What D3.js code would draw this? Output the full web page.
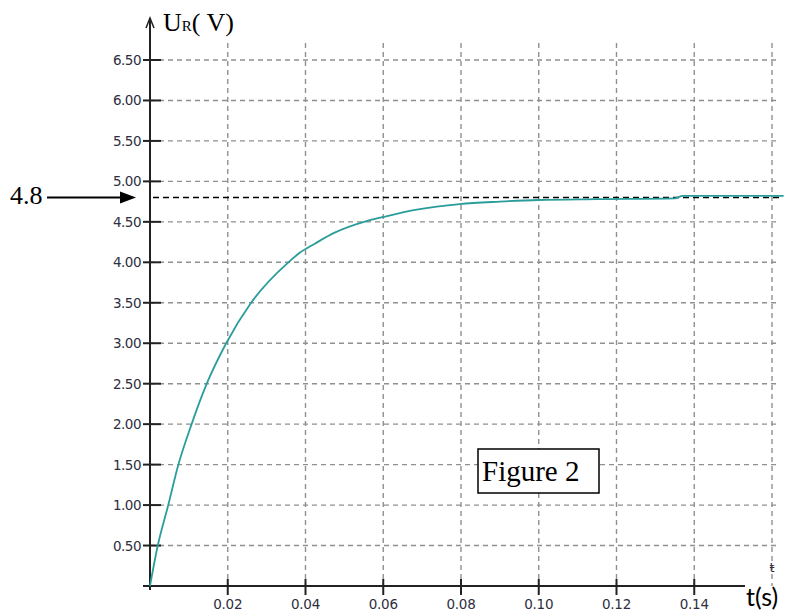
<!DOCTYPE html>
<html><head><meta charset="utf-8">
<script src="https://cdn.jsdelivr.net/npm/d3@7"></script>
<style>body{margin:0;background:#fff}svg{display:block}</style>
</head><body>
<script>
// data
const tValues = [0, 0.002, 0.0047, 0.0073, 0.0107, 0.0146, 0.0196, 0.026, 0.0356, 0.0386, 0.0424, 0.0472, 0.0557, 0.060, 0.0686, 0.0797, 0.09, 0.10, 0.115, 0.135, 0.137, 0.163];
const uValues = [0, 0.5, 1.0, 1.5, 2.0, 2.5, 3.0, 3.5, 4.0, 4.12, 4.23, 4.36, 4.51, 4.56, 4.65, 4.72, 4.75, 4.77, 4.78, 4.79, 4.82, 4.82];
const xTicks = [0.02, 0.04, 0.06, 0.08, 0.10, 0.12, 0.14];
const xTickLabels = ["0.02", "0.04", "0.06", "0.08", "0.10", "0.12", "0.14"];
const xGrid = [0.02, 0.04, 0.06, 0.08, 0.10, 0.12, 0.14, 0.16];
const yTicks = [0.5, 1, 1.5, 2, 2.5, 3, 3.5, 4, 4.5, 5, 5.5, 6, 6.5];
const yTickLabels = ["0.50","1.00","1.50","2.00","2.50","3.00","3.50","4.00","4.50","5.00","5.50","6.00","6.50"];
const asymptote = 4.8;

const W = 785, H = 611;
const serif = "'Liberation Serif', 'Times New Roman', serif";
const svg = d3.select("body").append("svg").attr("width", W).attr("height", H);
const x = d3.scaleLinear().domain([0, 0.16]).range([150, 772]);
const y = d3.scaleLinear().domain([0, 6.5]).range([586, 60]);

const grid = svg.append("g").attr("stroke", "#909090").attr("stroke-width", 1.4).attr("stroke-dasharray", "5,4");
grid.selectAll("line.v").data(xGrid).join("line").attr("class","v")
  .attr("x1", d => x(d)).attr("x2", d => x(d)).attr("y1", 43).attr("y2", y(0));
grid.selectAll("line.h").data(yTicks).join("line").attr("class","h")
  .attr("x1", x(0)).attr("x2", 780).attr("y1", d => y(d)).attr("y2", d => y(d));

// 4.8 dashed line
svg.append("line").attr("x1", 153).attr("x2", 782).attr("y1", y(asymptote)).attr("y2", y(asymptote))
  .attr("stroke", "#000").attr("stroke-width", 1.5).attr("stroke-dasharray", "6,4");

// axes
const ax = svg.append("g").attr("stroke", "#222").attr("stroke-width", 2);
ax.append("line").attr("x1", x(0)).attr("x2", x(0)).attr("y1", 590).attr("y2", 18);
ax.append("path").attr("d", `M${x(0)-4},28 L${x(0)},18 L${x(0)+4},28`).attr("fill", "none").attr("stroke-width", 1.5);
ax.append("line").attr("x1", 143).attr("x2", 745).attr("y1", y(0)).attr("y2", y(0));
ax.selectAll("line.yt").data(yTicks).join("line").attr("class","yt")
  .attr("x1", 143).attr("x2", 161).attr("y1", d => y(d)).attr("y2", d => y(d));
ax.selectAll("line.xt").data(xTicks).join("line").attr("class","xt")
  .attr("x1", d => x(d)).attr("x2", d => x(d)).attr("y1", 579).attr("y2", 595);

const lab = svg.append("g").attr("font-family", "DejaVu Sans, sans-serif").style("font-size", "13.5px").attr("fill", "#2e2e40");
lab.selectAll("text.yl").data(yTicks).join("text").attr("class","yl")
  .attr("x", 141).attr("y", d => y(d) + 5).attr("text-anchor", "end")
  .attr("letter-spacing", -0.5)
  .text((d, i) => yTickLabels[i]);
lab.selectAll("text.xl").data(xTicks).join("text").attr("class","xl")
  .attr("x", d => x(d)).attr("y", 609).attr("text-anchor", "middle")
  .attr("letter-spacing", -0.3)
  .text((d, i) => xTickLabels[i]);
lab.append("text").attr("x", x(0.16)).attr("y", 572).attr("text-anchor", "middle").style("font-size", "13px").text("ŧ");

// curve
const line = d3.line().x(d => x(d[0])).y(d => y(d[1])).curve(d3.curveMonotoneX);
svg.append("path").datum(tValues.map((t, i) => [t, uValues[i]]))
  .attr("d", line).attr("fill", "none").attr("stroke", "#2a9d9a").attr("stroke-width", 1.8);

// axis labels
const ylab = svg.append("text").attr("x", 163).attr("y", 31).attr("font-family", serif).style("font-size", "26px").attr("fill", "#000");
ylab.append("tspan").text("U");
ylab.append("tspan").style("font-size", "15px").text("R");
ylab.append("tspan").text("( V)");

svg.append("text").attr("x", 746).attr("y", 606).attr("font-family", "Lato").style("font-size", "25px").attr("fill", "#000").text("t(s)");

// 4.8 arrow
svg.append("text").attr("x", 10).attr("y", 204).attr("font-family", serif).style("font-size", "26px").attr("fill", "#000").text("4.8");
svg.append("line").attr("x1", 47).attr("x2", 122).attr("y1", y(asymptote)).attr("y2", y(asymptote)).attr("stroke", "#000").attr("stroke-width", 2);
svg.append("path").attr("d", `M120,${y(asymptote)-6} L136,${y(asymptote)} L120,${y(asymptote)+6} Z`).attr("fill", "#000");

// Figure 2 box
svg.append("rect").attr("x", 478).attr("y", 449).attr("width", 121).attr("height", 44)
  .attr("fill", "#fff").attr("stroke", "#000").attr("stroke-width", 1.5);
svg.append("text").attr("x", 482).attr("y", 481).attr("font-family", serif).style("font-size", "29px").attr("fill", "#000").text("Figure 2");
</script>
</body></html>
